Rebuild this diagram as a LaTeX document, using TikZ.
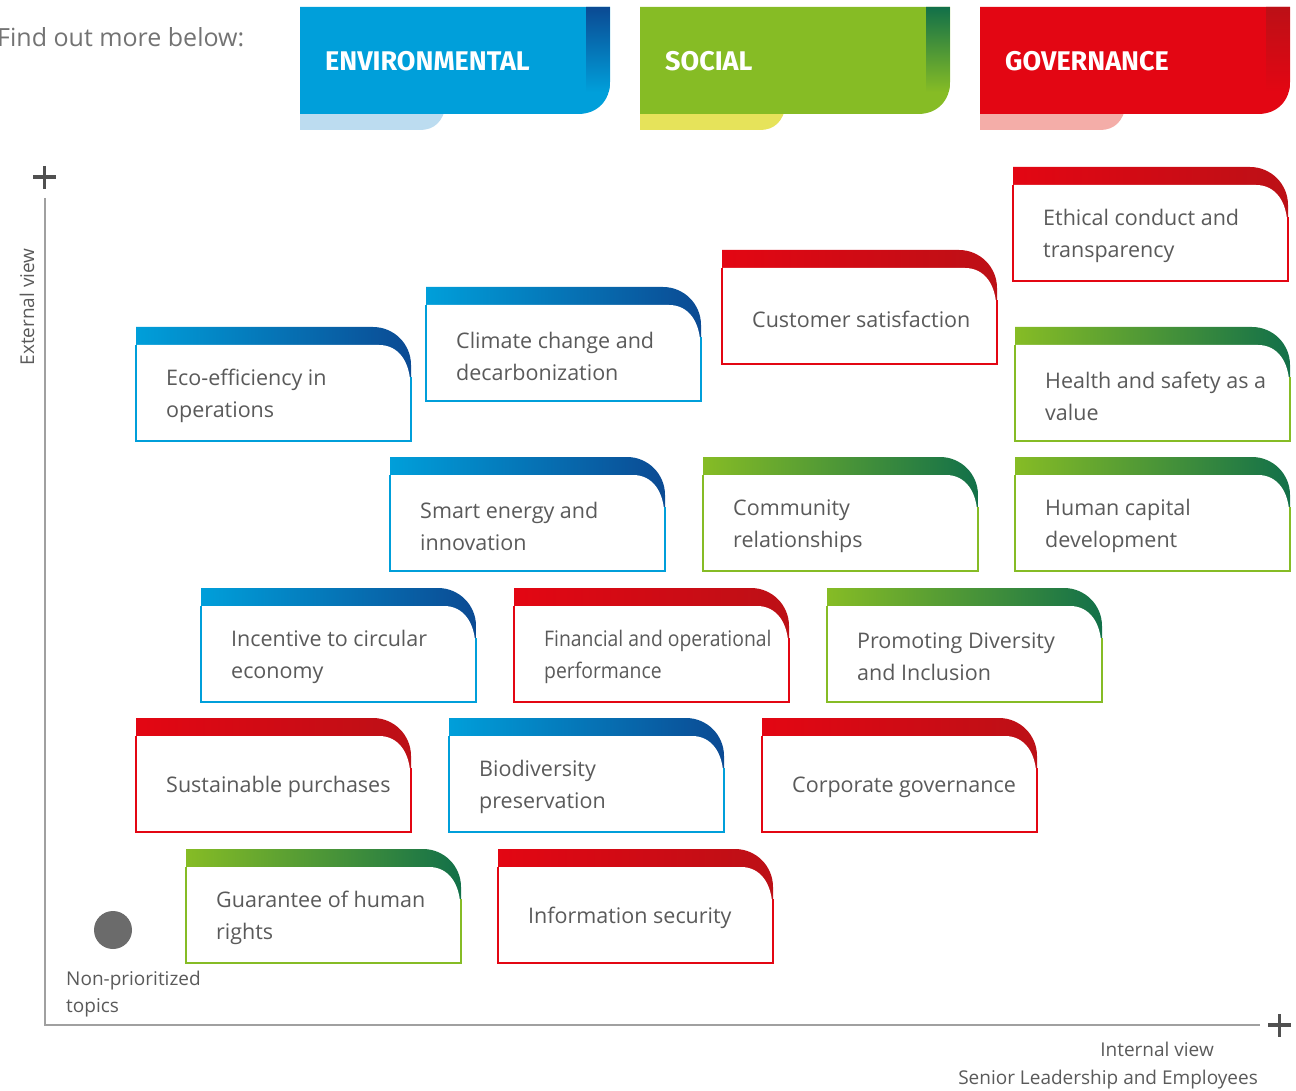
\documentclass[tikz,border=0pt]{standalone}
\usepackage{fontspec}
\setmainfont{Open Sans}
\newfontfamily\headfont{Fira Sans}
\usetikzlibrary{positioning}

\definecolor{envbase}{HTML}{009FDA}
\definecolor{envdark}{HTML}{0B4A93}
\definecolor{envlight}{HTML}{BCDCF0}
\definecolor{socbase}{HTML}{86BC25}
\definecolor{socdark}{HTML}{127049}
\definecolor{soclight}{HTML}{E6E35A}
\definecolor{govbase}{HTML}{E30613}
\definecolor{govdark}{HTML}{BC1016}
\definecolor{govlight}{HTML}{F4ADA8}
\definecolor{txtgrey}{HTML}{5A5A5A}
\definecolor{axisgrey}{HTML}{A0A0A0}
\definecolor{plusgrey}{HTML}{505050}
\definecolor{dotgrey}{HTML}{6B6B6B}

\tikzset{
  topictext/.style={font=\fontsize{21.5}{32}\selectfont, text=txtgrey, align=left, inner sep=0pt, anchor=west},
  tabtext/.style={font=\headfont\bfseries\fontsize{27}{30}\selectfont, text=white, anchor=west, inner sep=0pt},
  notetext/.style={font=\fontsize{19}{27}\selectfont, text=txtgrey, inner sep=0pt},
  plussign/.style={line width=3.6pt, draw=plusgrey}
}

% one topic card: name, left, top, colour set, text
\newcommand{\topicbox}[5]{%
  \begin{scope}[shift={(#2,#3)}]
    \shade[left color=#4base, right color=#4dark] (0,0) -- (237,0) .. controls (258,0) and (275,17) .. (275,38) -- (275,114) -- (0,114) -- cycle;
    \fill[white] (0.6,18) -- (243,18) .. controls (262,18) and (274.4,34) .. (274.4,60) -- (274.4,113.4) -- (0.6,113.4) -- cycle;
    \draw[#4base, line width=1.2pt] (0,18) -- (0,114) -- (275,114) -- (275,50);
    \node[topictext] (#1) at (30,69) {#5};
  \end{scope}}

% one header tab: name, left, colour set, text
\newcommand{\categorytab}[4]{%
  \begin{scope}[shift={(#2,0)}]
    \fill[#3light] (0,105) -- (0,130) -- (120,130) .. controls (134,130) and (143,122) .. (146,105) -- cycle;
    \fill[#3base] (0,7) -- (310,7) -- (310,82) .. controls (310,100) and (298,114) .. (278,114) -- (0,114) -- cycle;
    \begin{scope}
      \clip (0,7) -- (310,7) -- (310,82) .. controls (310,100) and (298,114) .. (278,114) -- (0,114) -- cycle;
      \shade[top color=#3dark, bottom color=#3base] (286,7) rectangle (310,92);
    \end{scope}
    \node[tabtext] (#1) at (25,61) {#4};
  \end{scope}}

\begin{document}
\begin{tikzpicture}[x=1pt, y=-1pt]
  \useasboundingbox (0,0) rectangle (1296,1091);

  \node[font=\fontsize{25}{30}\selectfont, text=txtgrey!85, anchor=west, inner sep=0pt] (intro) at (-3,37) {Find out more below:};
  \categorytab{env}{300}{env}{ENVIRONMENTAL}
  \categorytab{soc}{640}{soc}{SOCIAL}
  \categorytab{gov}{980}{gov}{GOVERNANCE}

  % axes
  \coordinate (ytop) at (45,198);
  \coordinate (origin) at (45,1025);
  \coordinate (xend) at (1260,1025);
  \draw[axisgrey, line width=1.2pt] (ytop) -- (origin) -- (xend);
  \draw[plussign] (33,177) -- (56,177) (44.5,166) -- (44.5,189);
  \draw[plussign] (1268,1025) -- (1291,1025) (1279.5,1014) -- (1279.5,1037);
  \node[notetext, rotate=90] (extview) at (27,307) {External view};
  \node[notetext, anchor=east] (intview) at (1214,1049) {Internal view};
  \node[notetext, anchor=east] (senior) at (1258,1080) {Senior Leadership and Employees};

  % topics
  \topicbox{ethics}{1013}{167}{gov}{Ethical conduct and\\transparency}
  \topicbox{customer}{722}{250}{gov}{Customer satisfaction}
  \topicbox{climate}{426}{287}{env}{Climate change and\\decarbonization}
  \topicbox{eco}{136}{327}{env}{Eco-efficiency in\\operations}
  \topicbox{health}{1015}{327}{soc}{Health and safety as a\\value}
  \topicbox{smart}{390}{457}{env}{Smart energy and\\innovation}
  \topicbox{community}{703}{457}{soc}{Community\\relationships}
  \topicbox{human}{1015}{457}{soc}{Human capital\\development}
  \topicbox{circular}{201}{588}{env}{Incentive to circular\\economy}
  \topicbox{financial}{514}{588}{gov}{\scalebox{0.9}[1]{Financial and operational}\\\scalebox{0.9}[1]{performance}}
  \topicbox{diversity}{827}{588}{soc}{Promoting Diversity\\and Inclusion}
  \topicbox{purchases}{136}{718}{gov}{Sustainable purchases}
  \topicbox{biodiv}{449}{718}{env}{Biodiversity\\preservation}
  \topicbox{corporate}{762}{718}{gov}{Corporate governance}
  \topicbox{rights}{186}{849}{soc}{Guarantee of human\\rights}
  \topicbox{infosec}{498}{849}{gov}{Information security}

  % legend
  \fill[dotgrey] (113,930) circle[radius=19] node (dot) {};
  \node[notetext, anchor=north west, align=left] (nonprio) at (66,971) {Non-prioritized\\topics};
\end{tikzpicture}
\end{document}
